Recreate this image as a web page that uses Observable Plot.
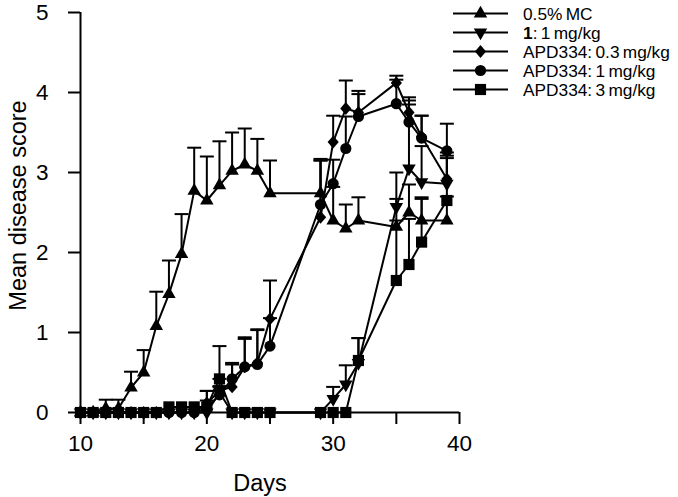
<!DOCTYPE html>
<html><head><meta charset="utf-8">
<script src="https://cdn.jsdelivr.net/npm/d3@7"></script>
<script src="https://cdn.jsdelivr.net/npm/@observablehq/plot@0.6"></script>
<style>
body{margin:0;background:#fff;}
#wrap{position:relative;width:678px;height:497px;font-family:"Liberation Sans",Arial,sans-serif;}
</style></head><body><div id="wrap"></div>
<script>
// ---- data ----
const days = [10,11,12,13,14,15,16,17,18,19,20,21,22,23,24,25,29,30,31,32,35,36,37,39];

const seriesNames = ["0.5% MC", "1: 1 mg/kg", "APD334: 0.3 mg/kg", "APD334: 1 mg/kg", "APD334: 3 mg/kg"];

const mcMean  = [0,0,0.05,0.05,0.31,0.5,1.08,1.48,1.98,2.77,2.65,2.84,3.02,3.1,3.02,2.74,2.74,2.4,2.3,2.4,2.32,2.5,2.4,2.4];
const mcErr   = [0,0,0.11,0.11,0.2,0.28,0.43,0.42,0.5,0.54,0.55,0.55,0.48,0.45,0.4,0.41,0.41,0.42,0.3,0.29,0.35,0.35,0.27,0.3];

const c1Mean  = [0,0,0,0,0,0,0,0,0,0,0,0.25,0,0,0,0,0,0.17,0.35,0.62,2.57,3.05,2.88,2.86];
const c1Err   = [0,0,0,0,0,0,0,0,0,0,0,0.08,0,0,0,0,0,0.15,0.24,0.31,0.43,0.8,0.45,0.32];

const a03Mean = [0,0,0,0,0,0,0,0,0,0,0.12,0.27,0.32,0.57,0.62,1.17,2.44,3.38,3.8,3.75,4.12,3.75,3.45,2.92];
const a03Err  = [0,0,0,0,0,0,0,0,0,0,0.15,0.15,0.3,0.37,0.42,0.48,0.73,0.33,0.35,0.27,0.09,0.19,0.26,0.29];

const a1Mean  = [0,0,0,0,0,0,0,0,0,0,0.05,0.22,0.42,0.57,0.6,0.83,2.6,2.86,3.3,3.7,3.86,3.63,3.43,3.27];
const a1Err   = [0,0,0,0,0,0,0,0,0,0,0.1,0.1,0.18,0.35,0.43,0.35,0.55,0.3,0.4,0.28,0.3,0.27,0.28,0.34];

const a3Mean  = [0,0,0,0,0,0,0,0.07,0.07,0.07,0.07,0.42,0,0,0,0,0,0,0,0.65,1.65,1.85,2.13,2.65];
const a3Err   = [0,0,0,0,0,0,0,0,0,0,0.2,0.41,0,0,0,0,0,0,0,0.28,0.75,0.57,0.56,0.6];

const xTicks = [10,15,20,25,30,35,40];
const xTickLabels = ["10","","20","","30","","40"];
const yTicks = [0,1,2,3,4,5];
const yTickLabels = ["0","1","2","3","4","5"];
const xLabel = "Days";
const yLabel = "Mean disease score";

// ---- symbols ----
const downTriangle = {draw(ctx, size){ const y = Math.sqrt(size/(Math.sqrt(3)*3)); const s3=Math.sqrt(3);
  ctx.moveTo(0, y*2); ctx.lineTo(-s3*y, -y); ctx.lineTo(s3*y, -y); ctx.closePath(); }};
const upTriangle = {draw(ctx, size){ const y = -Math.sqrt(size/(Math.sqrt(3)*3)); const s3=Math.sqrt(3);
  ctx.moveTo(0, y*2); ctx.lineTo(-s3*y, -y); ctx.lineTo(s3*y, -y); ctx.closePath(); }};
const diamondSym = {draw(ctx, size){ const r = Math.sqrt(size/Math.PI);
  ctx.moveTo(0,-1.15*r); ctx.lineTo(r,0); ctx.lineTo(0,1.15*r); ctx.lineTo(-r,0); ctx.closePath(); }};
const squareSym = {draw(ctx, size){ const h = Math.sqrt(size)/2; ctx.rect(-h,-h,2*h,2*h); }};
const circleSym = {draw(ctx, size){ const r = Math.sqrt(size/Math.PI); ctx.moveTo(r,0); ctx.arc(0,0,r,0,2*Math.PI); }};
const capSym = {draw(ctx, size){ const r = Math.sqrt(size/Math.PI); ctx.moveTo(-r,0); ctx.lineTo(r,0); }};

const seriesDefs = [
  {name: seriesNames[0], mean: mcMean,  err: mcErr,  symbol: upTriangle,  r: 5},
  {name: seriesNames[1], mean: c1Mean,  err: c1Err,  symbol: downTriangle, r: 5},
  {name: seriesNames[2], mean: a03Mean, err: a03Err, symbol: diamondSym,  r: 5.6},
  {name: seriesNames[3], mean: a1Mean,  err: a1Err,  symbol: circleSym,   r: 5.6},
  {name: seriesNames[4], mean: a3Mean,  err: a3Err,  symbol: squareSym,   r: 6.3}
];

const rows = seriesDefs.flatMap(s => days.map((d,i) => ({series: s.name, day: d, mean: s.mean[i], err: s.err[i]})));
const errRows = rows.filter(d => d.err > 0);

const marks = [
  Plot.ruleX(errRows, {x: "day", y1: "mean", y2: d => d.mean + d.err, stroke: "black", strokeWidth: 2}),
  Plot.dot(errRows, {x: "day", y: d => d.mean + d.err, symbol: capSym, r: 7, stroke: "black", strokeWidth: 2, fill: "none"}),
  Plot.line(rows, {x: "day", y: "mean", z: "series", stroke: "black", strokeWidth: 2}),
  ...seriesDefs.map(s => Plot.dot(rows.filter(d => d.series === s.name), {x: "day", y: "mean", symbol: s.symbol, r: s.r, fill: "black", stroke: "none"})),
  Plot.ruleY([0], {stroke: "black", strokeWidth: 2}),
  Plot.ruleX([10], {stroke: "black", strokeWidth: 2}),
  Plot.axisX({ticks: xTicks, tickFormat: d => xTickLabels[xTicks.indexOf(d)], tickSize: 12, tickPadding: 11, strokeWidth: 2, fontSize: 22.5, label: null}),
  Plot.axisY({ticks: yTicks, tickFormat: d => yTickLabels[yTicks.indexOf(d)], tickSize: 12, tickPadding: 20, strokeWidth: 2, fontSize: 22.5, label: null}),
  Plot.text([xLabel], {text: d => d, frameAnchor: "bottom", textAnchor: "middle", dy: 78, dx: -10, lineAnchor: "bottom", fontSize: 23.5, fill: "black"}),
  Plot.text([yLabel], {text: d => d, frameAnchor: "left", textAnchor: "middle", dx: -55, dy: -7, rotate: -90, lineAnchor: "bottom", fontSize: 23.5, fill: "black"})
];

const chart = Plot.plot({
  width: 678, height: 497,
  marginLeft: 80, marginRight: 219, marginTop: 12, marginBottom: 85,
  x: {domain: [10, 40]},
  y: {domain: [0, 5]},
  style: {fontFamily: "'Liberation Sans', Arial, sans-serif", color: "black", background: "white", overflow: "visible"},
  marks
});
document.getElementById("wrap").appendChild(chart);

// ---- legend ----
const lg = d3.select("#wrap").append("svg")
  .attr("width", 678).attr("height", 497)
  .style("position", "absolute").style("left", "0px").style("top", "0px");
seriesDefs.forEach((s, i) => {
  const y = 13.5 + i * 19;
  lg.append("line").attr("x1", 453).attr("x2", 508).attr("y1", y).attr("y2", y)
    .attr("stroke", "black").attr("stroke-width", 2);
  lg.append("path").attr("transform", `translate(480.5,${y})`)
    .attr("d", d3.symbol(s.symbol, Math.PI * s.r * s.r)()).attr("fill", "black");
  const t = lg.append("text").attr("x", 523).attr("y", y + 6.3)
    .attr("font-family", "'Liberation Sans', Arial, sans-serif").attr("font-size", 17.3)
    .attr("word-spacing", -1.5).attr("fill", "black");
  const m = s.name.match(/^(1)(:.*)$/);
  if (m) {
    t.append("tspan").attr("font-weight", "bold").text(m[1]);
    t.append("tspan").text(m[2]);
  } else {
    t.text(s.name);
  }
});
</script></body></html>
